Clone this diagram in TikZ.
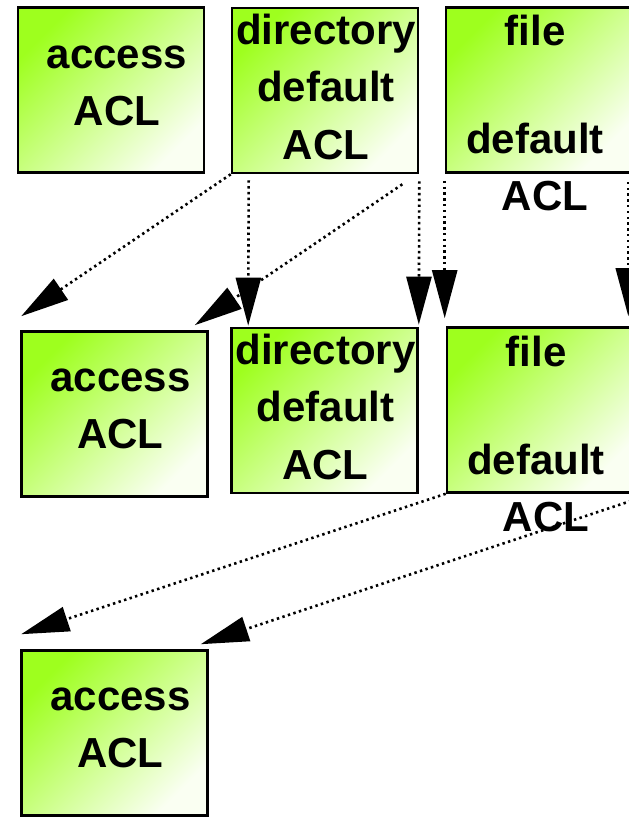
\documentclass[tikz,border=0pt]{standalone}
\usepackage{fontspec}
\setmainfont{Liberation Sans}
\usepackage{tikz}
\usetikzlibrary{arrows.meta,calc}
\definecolor{boxgreen}{RGB}{158,255,30}
\definecolor{boxpale}{RGB}{250,255,242}
\tikzset{
  aclbox/.style={draw=black,line width=2.6pt,minimum width=186pt,minimum height=165pt,
    inner sep=0pt,top color=boxgreen,bottom color=boxpale,shading angle=45},
  lbl/.style={anchor=north,inner sep=0pt,align=center,
    font=\fontsize{42}{57.5}\selectfont\bfseries},
  arr/.style={line width=2.6pt,dash pattern=on 2.4pt off 3.4pt,
    -{Triangle[length=48pt,width=25pt]}}
}
\begin{document}
\begin{tikzpicture}[x=1pt,y=-1pt]
\useasboundingbox (0,0) rectangle (629,817);
\node[aclbox] (A1) at (111,90) {};
\node[aclbox] (D1) at (325,90.5) {};
\node[aclbox] (F1) at (539,90) {};
\node[aclbox] (A2) at (114.5,414) {};
\node[aclbox] (D2) at (324.5,410.5) {};
\node[aclbox] (F2) at (540,410) {};
\node[aclbox] (A3) at (114.5,733) {};

\node[lbl] (tA1) at ([xshift=6pt,yshift=-32pt]A1.north) {\rule{0pt}{30pt}access\\ACL};
\node[lbl] (tD1) at ([xshift=1pt,yshift=-7pt]D1.north) {\rule{0pt}{30pt}directory\\default\\ACL};
\node[lbl] (tF1) at ([xshift=-4pt,yshift=-9pt]F1.north) {\rule{0pt}{30pt}file\\[50pt]default\\\hspace*{20pt}ACL};
\node[lbl] (tA2) at ([xshift=6pt,yshift=-31pt]A2.north) {\rule{0pt}{30pt}access\\ACL};
\node[lbl] (tD2) at ([xshift=1pt,yshift=-7pt]D2.north) {\rule{0pt}{30pt}directory\\default\\ACL};
\node[lbl] (tF2) at ([xshift=-4pt,yshift=-10pt]F2.north) {\rule{0pt}{30pt}file\\[50pt]default\\\hspace*{20pt}ACL};
\node[lbl] (tA3) at ([xshift=6pt,yshift=-31pt]A3.north) {\rule{0pt}{30pt}access\\ACL};

\draw[arr] (D1.south west) -- ([xshift=1pt,yshift=14pt]A2.north west);
\draw[arr] ([xshift=18pt,yshift=-6pt]D1.south west) -- ([xshift=18pt,yshift=1pt]D2.north west);
\draw[arr] ([xshift=-17pt,yshift=-10pt]D1.south east) -- ([xshift=-14pt,yshift=5pt]A2.north east);
\draw[arr] ([yshift=-7pt]D1.south east) -- ([yshift=2pt]D2.north east);
\draw[arr] ([yshift=-7pt]F1.south west) -- ([xshift=-1pt,yshift=8pt]F2.north west);
\draw[arr] ([xshift=-5pt,yshift=-8pt]F1.south east) -- ([xshift=-6pt,yshift=10pt]F2.north east);
\draw[arr] (F2.south west) -- ([xshift=1pt,yshift=15pt]A3.north west);
\draw[arr] ([xshift=-3pt,yshift=-7pt]F2.south east) -- ([xshift=-8pt,yshift=5pt]A3.north east);
\end{tikzpicture}
\end{document}
